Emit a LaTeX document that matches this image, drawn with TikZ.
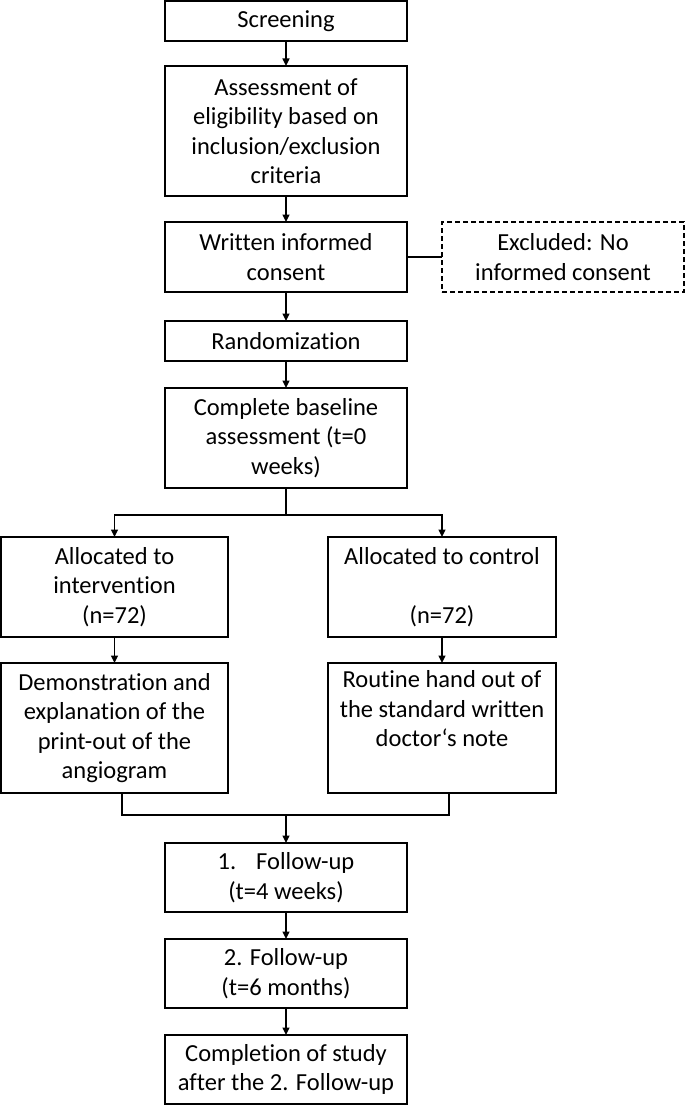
\documentclass[tikz,border=0pt]{standalone}
\usepackage{fontspec}
\setmainfont{Carlito}[Ligatures={NoCommon}]
\usetikzlibrary{arrows.meta}
\begin{document}
\begin{tikzpicture}[x=1pt,y=-1pt,
  box/.style={draw=black,line width=1.3pt,rectangle,inner sep=0pt,outer sep=0pt,align=center,
    font={\fontsize{24.5}{29.5}\selectfont}},
  dbox/.style={box,dashed,dash pattern=on 5pt off 3pt},
  conn/.style={line width=1.3pt,draw=black},
  arr/.style={conn,-{Triangle[length=7.5pt,width=7pt]}}]
\useasboundingbox (0,0) rectangle (685,1105);
\node[box,minimum width=242pt,minimum height=40pt] (screen) at (286,21) {Screening};
\node[box,minimum width=242pt,minimum height=130pt] (assess) at (286,131) {Assessment of\\eligibility based on\\inclusion/exclusion\\criteria};
\node[box,minimum width=242pt,minimum height=70pt] (consent) at (286,257) {Written informed\\consent};
\node[dbox,minimum width=242pt,minimum height=70pt] (excl) at (563,257) {Excluded: No\\informed consent};
\node[box,minimum width=242pt,minimum height=40pt] (random) at (286,341) {Randomization};
\node[box,minimum width=242pt,minimum height=100pt] (baseline) at (286,438) {Complete baseline\\assessment (t=0\\weeks)};
\node[box,minimum width=227pt,minimum height=100pt] (allocL) at (114.5,587) {Allocated to\\intervention\\(n=72)};
\node[box,minimum width=228pt,minimum height=100pt] (allocR) at (442,587) {Allocated to control\\\strut\\(n=72)};
\node[box,minimum width=227pt,minimum height=130pt] (demo) at (114.5,728) {Demonstration and\\explanation of the\\print-out of the\\angiogram};
\node[box,minimum width=228pt,minimum height=130pt] (routine) at (442,728) {Routine hand out of\\the standard written\\doctor‘s note\\\strut};
\node[box,minimum width=242pt,minimum height=69pt] (fu1) at (286,877.5) {1.\hspace{20pt}Follow-up\\(t=4 weeks)};
\node[box,minimum width=242pt,minimum height=69pt] (fu2) at (286,973.5) {2. Follow-up\\(t=6 months)};
\node[box,minimum width=242pt,minimum height=69pt] (complete) at (286,1069.5) {Completion of study\\after the 2. Follow-up};
\coordinate (split) at (286,515);
\coordinate (mL) at (122,815);
\coordinate (mR) at (449,815);
\coordinate (merge) at (286,815);
\draw[arr] (screen) -- (assess);
\draw[arr] (assess) -- (consent);
\draw[conn] (consent.east) -- (excl.west |- consent.east);
\draw[arr] (consent) -- (random);
\draw[arr] (random) -- (baseline);
\draw[conn] (baseline.south) -- (split);
\draw[arr] (split) -| (allocL.north);
\draw[arr] (split) -| (allocR.north);
\draw[arr] (allocL) -- (demo);
\draw[arr] (allocR) -- (routine);
\draw[conn] (demo.south -| mL) -- (mL) -- (mR) -- (routine.south -| mR);
\draw[arr] (merge) -- (fu1);
\draw[arr] (fu1) -- (fu2);
\draw[arr] (fu2) -- (complete);
\end{tikzpicture}
\end{document}
